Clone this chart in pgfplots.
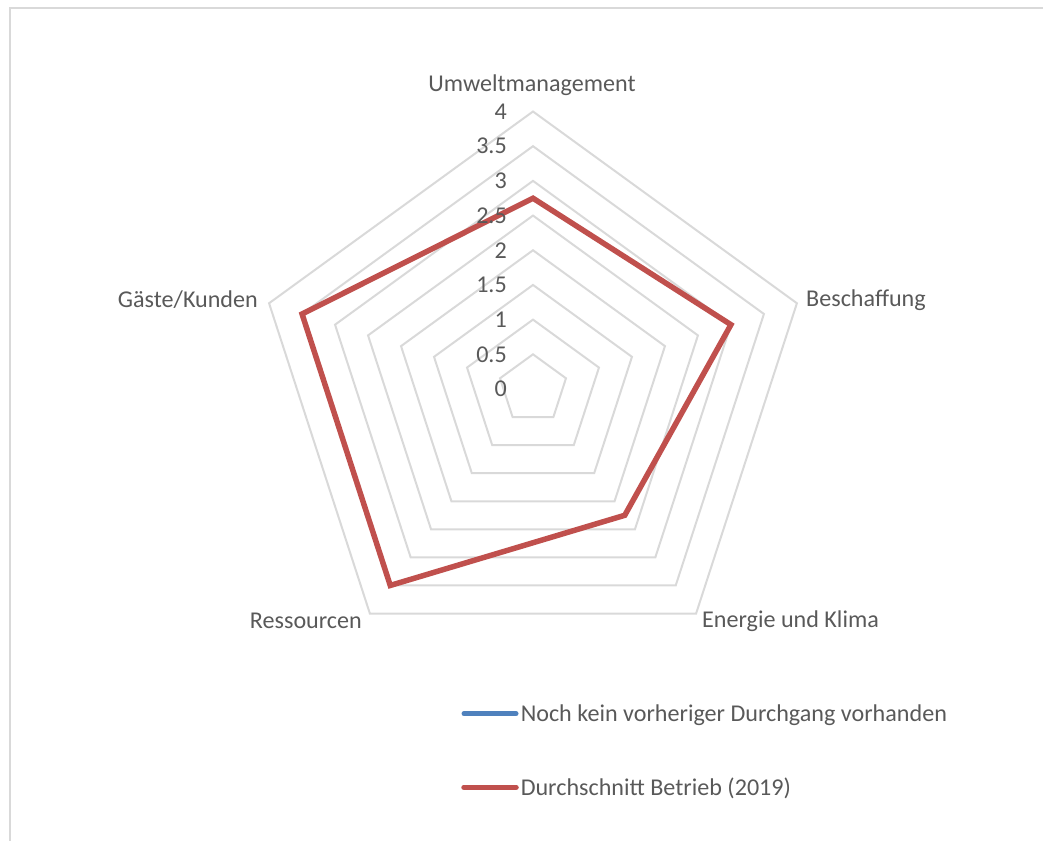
\documentclass[border=0pt]{standalone}
\usepackage{pgfplots}
\pgfplotsset{compat=1.18}
\usepgfplotslibrary{polar}
\usepackage{fontspec}
\setmainfont{Carlito}
\definecolor{txt}{HTML}{595959}
\definecolor{gridc}{HTML}{D9D9D9}
\definecolor{serblue}{HTML}{4F81BD}
\definecolor{serred}{HTML}{C0504D}

\begin{document}
\begin{tikzpicture}[x=1bp,y=1bp,font=\fontsize{24.2}{29}\selectfont,text=txt]
\path[use as bounding box] (-533,-452) rectangle (510,389);
% chart frame (only top and left edges visible)
\draw[gridc,line width=2bp] (-523,-452) -- (-523,381) -- (510,381);

\begin{polaraxis}[
  at={(0,0)}, anchor=center,
  scale only axis, width=555bp, height=555bp,
  ymin=0, ymax=4,
  hide axis,
  clip=false,
  legend style={at={(0.365,-0.061)}, anchor=north west, draw=none, fill=none,
    row sep=51bp, font=\fontsize{24.2}{29}\selectfont, text=txt},
  legend cell align=left,
  legend image code/.code={\draw[#1,line cap=round] (0bp,0bp) -- (52bp,0bp);},
]
\addlegendimage{serblue, line width=5bp}
\addlegendentry{Noch kein vorheriger Durchgang vorhanden}

% pentagon grid
\pgfplotsinvokeforeach{0.5,1,1.5,2,2.5,3,3.5,4}{
  \addplot[gridc, line width=2bp, line join=miter, forget plot]
    coordinates {(90,#1) (18,#1) (-54,#1) (-126,#1) (162,#1)} -- cycle;
}

% Umweltmanagement, Beschaffung, Energie und Klima, Ressourcen, Gaeste/Kunden
\addplot[serred, line width=5.5bp, line join=miter]
  coordinates {(90,2.75) (18,3) (-54,2.25) (-126,3.5) (162,3.5)} -- cycle;
\addlegendentry{Durchschnitt Betrieb (2019)}

\pgfplotsinvokeforeach{0,0.5,1,1.5,2,2.5,3,3.5,4}{
  \node[anchor=east, inner sep=0pt, xshift=-26bp] at (axis cs:90,#1) {#1};
}
\end{polaraxis}

\node[inner sep=0pt] at (-1,304) {Umweltmanagement};
\node[anchor=west, inner sep=0pt] at (273,89) {Beschaffung};
\node[anchor=west, inner sep=0pt] at (169,-232) {Energie und Klima};
\node[anchor=east, inner sep=0pt] at (-171,-232) {Ressourcen};
\node[anchor=east, inner sep=0pt] at (-275,89) {Gäste/Kunden};
\end{tikzpicture}
\end{document}
